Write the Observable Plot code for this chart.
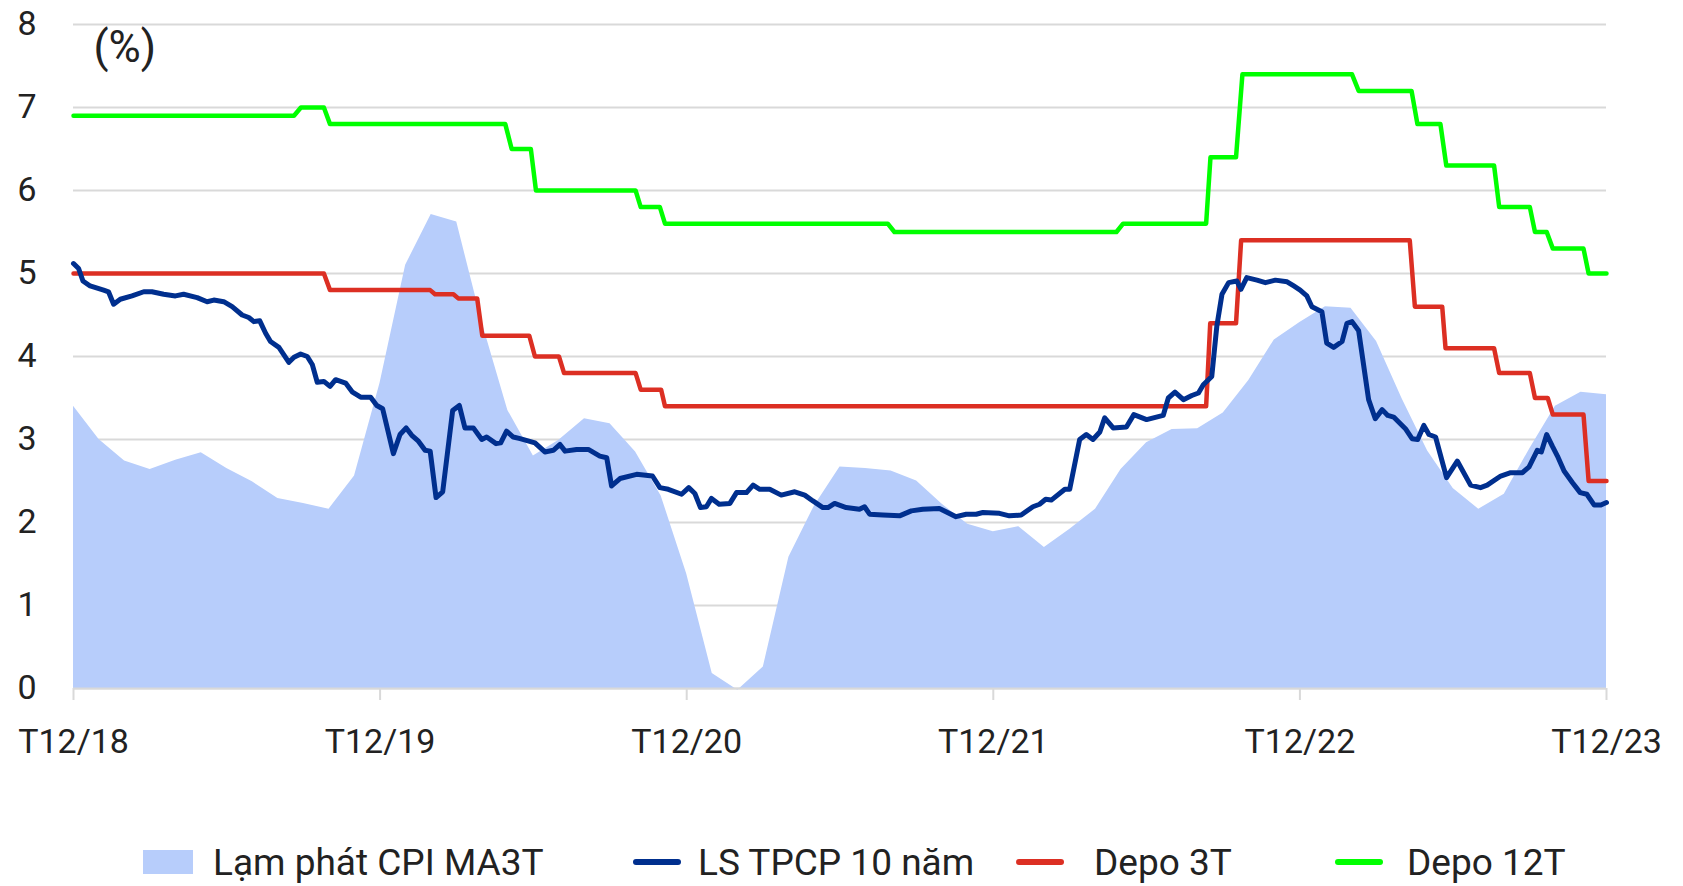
<!DOCTYPE html>
<html>
<head>
<meta charset="utf-8">
<script src="https://cdn.jsdelivr.net/npm/d3@7"></script>
<script src="https://cdn.jsdelivr.net/npm/@observablehq/plot@0.6"></script>
<style>
  html, body { margin: 0; padding: 0; background: #fff; }
  body { width: 1683px; height: 886px; overflow: hidden; font-family: Roboto, "Noto Sans", sans-serif; color: #222; }
  #legend { position: relative; width: 1683px; height: 96px; font-size: 37px; }
  #legend .sw { position: absolute; }
  #legend .lb { position: absolute; top: 72px; transform: translateY(-50%); white-space: nowrap; line-height: 1; }
</style>
</head>
<body>
<div id="chart"></div>
<div id="legend"></div>
<script>
// ---- Data ----
const xTickLabels = ["T12/18", "T12/19", "T12/20", "T12/21", "T12/22", "T12/23"];
const xTickMonths = [0, 12, 24, 36, 48, 60];   // months since Dec 2018
const yTicks = [0, 1, 2, 3, 4, 5, 6, 7, 8];

const seriesNames = ["Lạm phát CPI MA3T", "LS TPCP 10 năm", "Depo 3T", "Depo 12T"];
const seriesColors = ["#b7cdfb", "#002f8e", "#dc2f23", "#00ff00"];

// CPI MA3T, monthly, Dec 2018 .. Dec 2023
const cpiValues = [
  3.40, 3.00, 2.74, 2.64, 2.75, 2.84, 2.65, 2.49, 2.29, 2.23, 2.16, 2.56, 3.68,
  5.10, 5.71, 5.62, 4.40, 3.35, 2.80, 2.99, 3.25, 3.19, 2.85, 2.32, 1.38,
  0.18, -0.02, 0.26, 1.58, 2.20, 2.67, 2.65, 2.62, 2.50, 2.22, 1.98, 1.89,
  1.95, 1.70, 1.92, 2.16, 2.64, 2.96, 3.12, 3.13, 3.32, 3.71, 4.20, 4.41,
  4.60, 4.58, 4.18, 3.49, 2.86, 2.41, 2.16, 2.34, 2.89, 3.40, 3.57, 3.54
];

// LS TPCP 10 năm (month position, %)
const bondMonths = [
  0, 0.2, 0.37, 0.65, 1.18, 1.37, 1.57, 1.83, 2.29, 2.75, 3.07, 3.53, 3.99, 4.31, 4.84, 5.23, 5.49, 5.88, 6.21, 6.6,
  6.86, 7.06, 7.29, 7.52, 7.71, 8.04, 8.43, 8.63, 8.89, 9.15, 9.35, 9.54, 9.8, 10.04, 10.26, 10.65, 10.92, 11.24, 11.63, 11.87,
  12.1, 12.52, 12.78, 13.02, 13.24, 13.5, 13.76, 13.96, 14.19, 14.45, 14.84, 15.1, 15.32, 15.65, 15.98, 16.17, 16.54, 16.72, 16.95, 17.21,
  17.48, 18.06, 18.45, 18.78, 19.04, 19.24, 19.69, 20.15, 20.6, 20.87, 21.06, 21.39, 22.04, 22.66, 22.95, 23.28, 23.8, 24.08, 24.32, 24.54,
  24.77, 24.97, 25.27, 25.69, 25.95, 26.34, 26.6, 26.86, 27.25, 27.7, 28.23, 28.62, 28.94, 29.33, 29.53, 29.79, 30.24, 30.76, 30.96, 31.16,
  31.68, 32.33, 32.79, 33.24, 33.89, 34.54, 34.94, 35.33, 35.59, 36.24, 36.63, 37.09, 37.55, 37.81, 38.05, 38.27, 38.8, 38.99, 39.38, 39.64,
  39.9, 40.17, 40.36, 40.69, 41.21, 41.5, 42.0, 42.65, 42.85, 43.11, 43.44, 43.77, 44.03, 44.22, 44.55, 44.75, 44.95, 45.21, 45.53, 45.69,
  45.92, 46.32, 46.65, 47.04, 47.5, 47.76, 48.01, 48.27, 48.47, 48.86, 49.05, 49.32, 49.65, 49.84, 50.04, 50.3, 50.69, 50.95, 51.22, 51.44,
  51.67, 52.13, 52.39, 52.61, 52.85, 53.05, 53.31, 53.74, 54.16, 54.68, 55.07, 55.33, 55.86, 56.25, 56.71, 56.97, 57.29, 57.45, 57.66, 57.88,
  58.08, 58.34, 58.67, 58.97, 59.23, 59.52, 59.78, 60
];
const bondValues = [
  5.12, 5.06, 4.91, 4.85, 4.80, 4.78, 4.63, 4.69, 4.73, 4.78, 4.78, 4.75, 4.73, 4.75, 4.71, 4.66, 4.68, 4.66, 4.60, 4.50,
  4.47, 4.42, 4.43, 4.28, 4.18, 4.11, 3.93, 3.99, 4.03, 4.00, 3.90, 3.69, 3.70, 3.64, 3.72, 3.68, 3.57, 3.51, 3.51, 3.41,
  3.37, 2.83, 3.06, 3.14, 3.05, 2.98, 2.87, 2.86, 2.30, 2.37, 3.35, 3.41, 3.14, 3.14, 3.00, 3.03, 2.95, 2.96, 3.10, 3.03,
  3.01, 2.96, 2.85, 2.87, 2.94, 2.86, 2.88, 2.88, 2.80, 2.78, 2.44, 2.53, 2.58, 2.56, 2.42, 2.40, 2.34, 2.42, 2.35, 2.18,
  2.19, 2.29, 2.22, 2.23, 2.36, 2.36, 2.45, 2.40, 2.40, 2.33, 2.37, 2.33, 2.26, 2.18, 2.18, 2.23, 2.18, 2.16, 2.19, 2.10,
  2.09, 2.08, 2.14, 2.16, 2.17, 2.07, 2.10, 2.10, 2.12, 2.11, 2.08, 2.09, 2.19, 2.22, 2.28, 2.27, 2.40, 2.40, 3.00, 3.06,
  3.00, 3.09, 3.26, 3.14, 3.15, 3.30, 3.24, 3.29, 3.50, 3.57, 3.48, 3.53, 3.56, 3.66, 3.76, 4.37, 4.75, 4.89, 4.91, 4.81,
  4.95, 4.92, 4.89, 4.92, 4.90, 4.85, 4.80, 4.73, 4.60, 4.54, 4.16, 4.11, 4.18, 4.40, 4.42, 4.31, 3.48, 3.25, 3.36, 3.29,
  3.27, 3.13, 3.01, 3.00, 3.17, 3.06, 3.03, 2.54, 2.74, 2.45, 2.42, 2.45, 2.56, 2.60, 2.60, 2.67, 2.87, 2.85, 3.06, 2.92,
  2.80, 2.62, 2.48, 2.36, 2.34, 2.21, 2.21, 2.24
];

// Depo 3T (month position, %)
const depo3Months = [0, 9.8, 10.04, 13.96, 14.15, 14.87, 15.06, 15.8, 16.0, 17.84, 18.06, 19.0, 19.2, 22.0, 22.2, 23.0, 23.15,
  44.33, 44.49, 45.5, 45.7, 52.3, 52.5, 53.57, 53.7, 55.6, 55.8, 57.0, 57.2, 57.7, 57.9, 59.1, 59.3, 60];
const depo3Values = [5.0, 5.0, 4.8, 4.8, 4.75, 4.75, 4.7, 4.7, 4.25, 4.25, 4.0, 4.0, 3.8, 3.8, 3.6, 3.6, 3.4,
  3.4, 4.4, 4.4, 5.4, 5.4, 4.6, 4.6, 4.1, 4.1, 3.8, 3.8, 3.5, 3.5, 3.3, 3.3, 2.5, 2.5];

// Depo 12T (month position, %)
const depo12Months = [0, 8.63, 8.9, 9.8, 10.04, 16.9, 17.15, 17.9, 18.1, 22.0, 22.2, 22.95, 23.15, 31.87, 32.13, 40.82, 41.08,
  44.33, 44.5, 45.5, 45.75, 50.04, 50.3, 52.37, 52.6, 53.5, 53.73, 55.6, 55.8, 57.0, 57.2, 57.66, 57.9, 59.1, 59.3, 60];
const depo12Values = [6.9, 6.9, 7.0, 7.0, 6.8, 6.8, 6.5, 6.5, 6.0, 6.0, 5.8, 5.8, 5.6, 5.6, 5.5, 5.5, 5.6,
  5.6, 6.4, 6.4, 7.4, 7.4, 7.2, 7.2, 6.8, 6.8, 6.3, 6.3, 5.8, 5.8, 5.5, 5.5, 5.3, 5.3, 5.0, 5.0];

// ---- Tables ----
const cpi = cpiValues.map((v, i) => ({m: i, v}));
const bond = bondMonths.map((m, i) => ({m, v: bondValues[i]}));
const depo3 = depo3Months.map((m, i) => ({m, v: depo3Values[i]}));
const depo12 = depo12Months.map((m, i) => ({m, v: depo12Values[i]}));

const FONT = "Roboto, 'Noto Sans', sans-serif";
const gridColor = "#d9d9d9";

const chart = Plot.plot({
  width: 1683,
  height: 790,
  marginLeft: 73,
  marginRight: 77,
  marginTop: 24,
  marginBottom: 102,
  style: {fontFamily: FONT, fontSize: "34px", color: "#222", background: "#fff"},
  x: {domain: [0, 60], ticks: xTickMonths, tickFormat: d => xTickLabels[xTickMonths.indexOf(d)]},
  y: {domain: [0, 8], ticks: yTicks},
  marks: [
    Plot.gridY(yTicks, {stroke: gridColor, strokeOpacity: 1, strokeWidth: 2}),
    Plot.areaY(cpi, {x: "m", y: "v", fill: seriesColors[0], fillOpacity: 1}),
    Plot.ruleY([0], {stroke: gridColor, strokeWidth: 2}),
    Plot.line(depo12, {x: "m", y: "v", stroke: seriesColors[3], strokeWidth: 4.5, strokeLinejoin: "round"}),
    Plot.line(depo3, {x: "m", y: "v", stroke: seriesColors[2], strokeWidth: 4.5, strokeLinejoin: "round"}),
    Plot.line(bond, {x: "m", y: "v", stroke: seriesColors[1], strokeWidth: 5, strokeLinejoin: "round", strokeLinecap: "round"}),
    Plot.axisX({ticks: xTickMonths, tickFormat: d => xTickLabels[xTickMonths.indexOf(d)], tickSize: 12, tickPadding: 28,
      stroke: gridColor, strokeWidth: 2, strokeOpacity: 1, fill: "#222", fontSize: 34, label: null}),
    Plot.axisY({ticks: yTicks, tickSize: 0, tickPadding: 37, fill: "#222", fontSize: 34, label: null}),
    Plot.text(["(%)"], {frameAnchor: "top-left", dx: 20, dy: 23, textAnchor: "start", lineAnchor: "middle", fontSize: 44, fill: "#222"})
  ]
});
document.getElementById("chart").appendChild(chart);

// ---- Legend (HTML, below the SVG) ----
const legend = document.getElementById("legend");
const swatchLefts = [143, 633, 1016, 1335];
const labelLefts = [213, 698, 1094, 1407];
seriesNames.forEach((name, i) => {
  const sw = document.createElement("div");
  sw.className = "sw";
  sw.style.left = swatchLefts[i] + "px";
  sw.style.background = seriesColors[i];
  if (i === 0) {
    sw.style.width = "50px"; sw.style.height = "24px"; sw.style.top = "60px";
  } else {
    sw.style.width = "48px"; sw.style.height = "6px"; sw.style.top = "69px"; sw.style.borderRadius = "3px";
  }
  legend.appendChild(sw);
  const lb = document.createElement("div");
  lb.className = "lb";
  lb.style.left = labelLefts[i] + "px";
  lb.textContent = name;
  legend.appendChild(lb);
});
</script>
</body>
</html>
